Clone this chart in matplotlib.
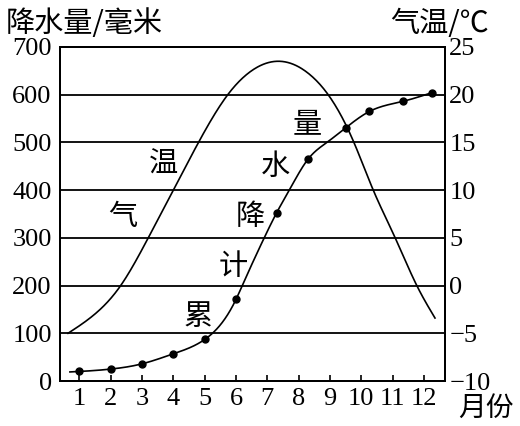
import numpy as np
import matplotlib
matplotlib.use("Agg")
import matplotlib.pyplot as plt

plt.rcParams['font.family'] = ['Liberation Serif', 'Noto Sans CJK SC', 'DejaVu Sans']

months = list(range(1, 13))
month_labels = [str(m) for m in months]

# cumulative precipitation (mm): dots as drawn, and the curve through them
dot_x = [1, 2, 3, 4, 5, 6, 7.3, 8.3, 9.51, 10.26, 11.32, 12.24]
dot_mm = [20, 25, 36, 57, 87, 171, 353, 465, 531, 565, 586, 604]
curve_x = [0.7, 1, 2, 3, 4, 5, 6, 6.2, 6.9, 7.3, 7.7, 8.3, 8.9, 9.51, 10.26, 11.32, 12.24]
curve_mm = [19, 20, 25, 36, 57, 87, 171, 200, 300, 353, 400, 465, 500, 531, 565, 586, 604]

# temperature (deg C)
temp_x = [0.64, 1.38, 2.32, 3.2, 4.0, 4.82, 5.76, 6.45, 7.41, 8.36, 8.92, 9.75, 10.38, 11.08, 11.77, 12.35]
temp_c = [-5.0, -3.3, 0.0, 5.0, 10.0, 15.1, 20.1, 22.4, 23.5, 22.1, 20.1, 15.1, 10.0, 5.0, 0.0, -3.4]

mm_ticks = list(range(0, 701, 100))
c_ticks = list(range(-10, 26, 5))

# vertical text labels along the curves
temp_words = [('气', 2.39, 344), ('温', 3.67, 453)]
prec_words = [('累', 4.79, 134), ('计', 5.91, 239), ('降', 6.45, 344), ('水', 7.25, 449), ('量', 8.27, 537)]


def spline(x, y, xn):
    # natural cubic spline, only used to draw the smooth curves
    x = np.asarray(x, float)
    y = np.asarray(y, float)
    n = len(x)
    h = np.diff(x)
    A = np.zeros((n, n))
    b = np.zeros(n)
    A[0, 0] = 1
    A[-1, -1] = 1
    for i in range(1, n - 1):
        A[i, i-1] = h[i-1]
        A[i, i] = 2 * (h[i-1] + h[i])
        A[i, i+1] = h[i]
        b[i] = 3 * ((y[i+1] - y[i]) / h[i] - (y[i] - y[i-1]) / h[i-1])
    c = np.linalg.solve(A, b)
    bc = (y[1:] - y[:-1]) / h - h * (2*c[:-1] + c[1:]) / 3
    dc = (c[1:] - c[:-1]) / (3*h)
    i = np.clip(np.searchsorted(x, xn) - 1, 0, n - 2)
    dx = xn - x[i]
    return y[i] + bc[i]*dx + c[i]*dx**2 + dc[i]*dx**3


fig = plt.figure(figsize=(5.2, 4.26), dpi=100)
ax = fig.add_axes([0.1154, 0.1056, 0.8558 - 0.1154, 0.8897 - 0.1056])
ax2 = ax.twinx()

ax.set_xlim(0.384, 12.67)
ax.set_ylim(0, 700)
ax2.set_ylim(-10, 25)

ax.set_yticks(mm_ticks)
ax2.set_yticks(c_ticks)
ax.set_xticks(months)
ax.set_xticklabels(month_labels)

ax.grid(axis='y', color='k', lw=1.3)
ax.set_axisbelow(True)

xs = np.linspace(curve_x[0], curve_x[-1], 400)
ax.plot(xs, spline(curve_x, curve_mm, xs), color='k', lw=1.2)
ax.plot(dot_x, dot_mm, 'o', color='k', ms=5)

xt = np.linspace(temp_x[0], temp_x[-1], 400)
ax2.plot(xt, spline(temp_x, temp_c, xt), color='k', lw=1.2)

for s in list(ax.spines.values()) + list(ax2.spines.values()):
    s.set_linewidth(1.4)

ax.tick_params(axis='x', direction='in', length=4, width=1.2, labelsize=19, pad=5)
ax.tick_params(axis='y', length=0, labelsize=19, pad=6)
ax2.tick_params(axis='y', length=0, labelsize=19, pad=3)

for w, x, y in temp_words + prec_words:
    ax.text(x, y, w, fontsize=21, ha='center', va='center', family=['Noto Sans CJK SC'])

fig.text(6/520, 1 - 24/426, '降水量/毫米', fontsize=21, ha='left', va='center',
         family=['Noto Sans CJK SC', 'DejaVu Sans'])
fig.text(489/520, 1 - 24/426, '气温/℃', fontsize=21, ha='right', va='center',
         family=['Noto Sans CJK SC', 'DejaVu Sans'])
fig.text(458/520, 1 - 408/426, '月份', fontsize=20, ha='left', va='center',
         family=['Noto Sans CJK SC'])

fig.savefig('out.png', dpi=100)
